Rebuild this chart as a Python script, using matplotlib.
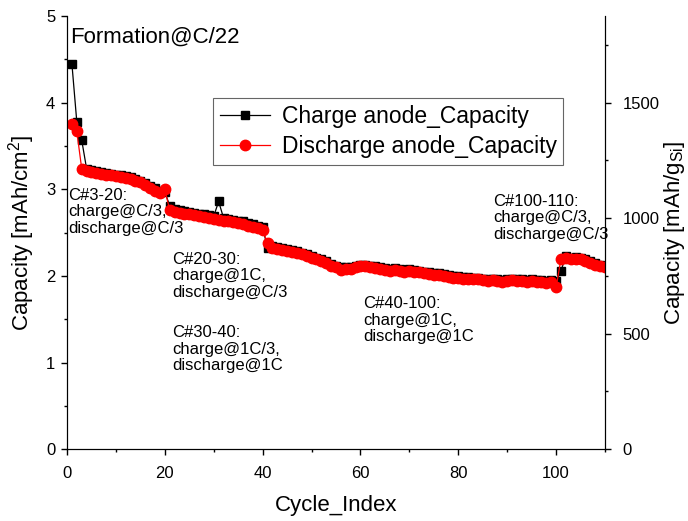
import numpy as np
import matplotlib
matplotlib.use("Agg")
import matplotlib.pyplot as plt
from matplotlib.ticker import MultipleLocator

plt.rcParams['font.family'] = ['Liberation Sans', 'DejaVu Sans']
plt.rcParams['mathtext.fontset'] = 'custom'
plt.rcParams['mathtext.rm'] = 'Liberation Sans'
plt.rcParams['mathtext.it'] = 'Liberation Sans:italic'

# cycle-by-cycle capacities (mAh/cm2)
cycles = list(range(1, 111))
discharge_cap = [
    3.75, 3.67, 3.24, 3.21, 3.20, 3.19, 3.18, 3.17, 3.16, 3.15,
    3.14, 3.13, 3.12, 3.10, 3.08, 3.05, 3.02, 2.98, 2.96, 3.00,
    2.76, 2.74, 2.73, 2.72, 2.71, 2.70, 2.69, 2.68, 2.67, 2.66,
    2.65, 2.64, 2.63, 2.62, 2.61, 2.60, 2.58, 2.57, 2.55, 2.53,
    2.38, 2.32, 2.31, 2.30, 2.29, 2.28, 2.27, 2.25, 2.23, 2.21,
    2.19, 2.17, 2.15, 2.12, 2.10, 2.07, 2.08, 2.08, 2.10, 2.11,
    2.11, 2.10, 2.09, 2.08, 2.07, 2.06, 2.07, 2.06, 2.05, 2.06,
    2.05, 2.04, 2.03, 2.02, 2.01, 2.01, 2.00, 1.99, 1.98, 1.98,
    1.97, 1.97, 1.96, 1.96, 1.95, 1.94, 1.95, 1.94, 1.93, 1.94,
    1.95, 1.94, 1.94, 1.93, 1.94, 1.93, 1.93, 1.92, 1.93, 1.87,
    2.20, 2.21, 2.19, 2.20, 2.19, 2.17, 2.15, 2.13, 2.11, 2.10,
]
charge_cap = [
    4.45, 3.78, 3.57, 3.24, 3.22, 3.21, 3.20, 3.19, 3.18, 3.17,
    3.16, 3.15, 3.14, 3.12, 3.10, 3.07, 3.04, 3.01, 2.98, 2.97,
    2.81, 2.77, 2.76, 2.75, 2.74, 2.73, 2.72, 2.71, 2.70, 2.69,
    2.86, 2.67, 2.66, 2.65, 2.64, 2.63, 2.61, 2.60, 2.58, 2.56,
    2.32, 2.34, 2.33, 2.32, 2.31, 2.30, 2.29, 2.27, 2.25, 2.23,
    2.21, 2.19, 2.17, 2.14, 2.12, 2.10, 2.10, 2.10, 2.12, 2.13,
    2.13, 2.12, 2.11, 2.10, 2.09, 2.08, 2.09, 2.08, 2.07, 2.08,
    2.07, 2.06, 2.05, 2.04, 2.03, 2.03, 2.02, 2.01, 2.00, 2.00,
    1.99, 1.99, 1.98, 1.98, 1.97, 1.96, 1.97, 1.96, 1.95, 1.96,
    1.97, 1.96, 1.96, 1.95, 1.96, 1.95, 1.95, 1.94, 1.95, 1.94,
    2.06, 2.23, 2.21, 2.22, 2.21, 2.19, 2.17, 2.15, 2.13, 2.12,
]

# mAh/cm2 -> mAh/g_Si conversion of the right axis
areal_to_gravimetric = 375.0

notes = [
    (0.6, 4.76, "Formation@C/22", 16),
    (0.2, 2.74, "C#3-20:\ncharge@C/3,\ndischarge@C/3", 12),
    (21.5, 2.00, "C#20-30:\ncharge@1C,\ndischarge@C/3", 12),
    (21.5, 1.155, "C#30-40:\ncharge@1C/3,\ndischarge@1C", 12),
    (60.5, 1.49, "C#40-100:\ncharge@1C,\ndischarge@1C", 12),
    (87.1, 2.67, "C#100-110:\ncharge@C/3,\ndischarge@C/3", 12),
]

fig = plt.figure(figsize=(6.88, 5.21), dpi=100)
ax = fig.add_axes([0.0974, 0.138, 0.782, 0.831])

ax.plot(cycles, charge_cap, color="black", marker="s", markersize=6,
        linewidth=0.9, label="Charge anode_Capacity")
ax.plot(cycles, discharge_cap, color="red", marker="o", markersize=7.5,
        linewidth=0.9, label="Discharge anode_Capacity")

ax.set_xlim(0, 110)
ax.set_ylim(0, 5)
ax.xaxis.set_major_locator(MultipleLocator(20))
ax.xaxis.set_minor_locator(MultipleLocator(10))
ax.yaxis.set_major_locator(MultipleLocator(1))
ax.yaxis.set_minor_locator(MultipleLocator(0.5))
ax.tick_params(which="both", direction="out", labelsize=12, width=1)
ax.tick_params(which="major", length=4.5)
ax.tick_params(which="minor", length=2.5)
ax.tick_params(axis="x", which="both", pad=8)
ax.tick_params(axis="y", which="both", pad=4)
ax.spines["top"].set_visible(False)
ax.set_xlabel("Cycle_Index", fontsize=16, labelpad=10)
ax.set_ylabel("Capacity [mAh/cm$^2$]", fontsize=16, labelpad=6)

ax2 = ax.twinx()
ax2.set_ylim(0, 5 * areal_to_gravimetric)
ax2.yaxis.set_major_locator(MultipleLocator(500))
ax2.yaxis.set_minor_locator(MultipleLocator(250))
ax2.tick_params(which="both", direction="out", labelsize=12, width=1, pad=8)
ax2.tick_params(which="major", length=4.5)
ax2.tick_params(which="minor", length=2.5)
ax2.spines["top"].set_visible(False)
ax2.set_ylabel(r"Capacity [mAh/g$_{\mathrm{Si}}$]", fontsize=16, labelpad=2)

for x, y, txt, fs in notes:
    ax.text(x, y, txt, fontsize=fs, ha="left", va="center", linespacing=1.15)

leg = ax.legend(loc="upper left", bbox_to_anchor=(0.271, 0.81), fontsize=16.5,
                frameon=True, fancybox=False, handlelength=2.2,
                borderpad=0.3, labelspacing=0.3, handletextpad=0.5,
                borderaxespad=0)
leg.get_frame().set_edgecolor("#404040")
leg.get_frame().set_linewidth(0.8)

fig.savefig("out.png", dpi=100)
